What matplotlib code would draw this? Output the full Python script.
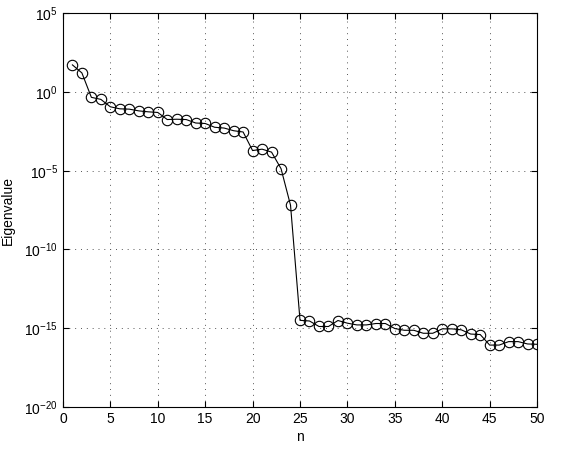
import matplotlib
matplotlib.use("Agg")
import matplotlib.pyplot as plt
import numpy as np

n = list(range(1, 51))
log10_eig = [1.72, 1.21, -0.34, -0.47, -0.94, -1.07, -1.09, -1.20, -1.26, -1.30,
             -1.75, -1.73, -1.75, -1.97, -2.00, -2.24, -2.29, -2.46, -2.54, -3.72,
             -3.63, -3.82, -4.87, -7.19, -14.50, -14.54, -14.89, -14.89, -14.51, -14.68,
             -14.79, -14.79, -14.70, -14.70, -15.02, -15.13, -15.13, -15.32, -15.32, -15.04,
             -15.04, -15.10, -15.37, -15.40, -16.07, -16.07, -15.85, -15.85, -16.00, -16.02]
eig = [10.0 ** v for v in log10_eig]

xticks = [0, 5, 10, 15, 20, 25, 30, 35, 40, 45, 50]
yticks = [1e-20, 1e-15, 1e-10, 1e-5, 1e0, 1e5]

plt.rcParams['font.family'] = ['Liberation Sans', 'DejaVu Sans']
plt.rcParams['mathtext.fontset'] = 'custom'
plt.rcParams['mathtext.rm'] = 'Liberation Sans'
plt.rcParams['mathtext.it'] = 'Liberation Sans'

fig = plt.figure(figsize=(5.72, 4.5), dpi=100)
ax = fig.add_axes([0.110, 0.0956, 0.829, 0.875])
ax.semilogy(n, eig, '-', color='black', linewidth=0.8, marker='o',
            markersize=7.5, markerfacecolor='none', markeredgecolor='black',
            markeredgewidth=0.8)
ax.set_xlim(0, 50)
ax.set_ylim(1e-20, 1e5)
ax.set_xticks(xticks)
ax.set_xticklabels([str(t) for t in xticks])
ax.set_yticks(yticks)
ax.set_yticklabels([r'$10^{%d}$' % int(np.log10(t)) for t in yticks])
ax.yaxis.set_minor_locator(matplotlib.ticker.NullLocator())
ax.tick_params(which='both', direction='in', top=True, right=True, labelsize=10,
               length=4, width=0.8)
ax.grid(True, linestyle=(0, (1, 5)), color='#555555', linewidth=0.7)
for s in ax.spines.values():
    s.set_linewidth(0.8)
ax.set_xlabel('n', fontsize=10, labelpad=3)
ax.set_ylabel('Eigenvalue', fontsize=10, labelpad=7)
fig.savefig('out.png', dpi=100)
